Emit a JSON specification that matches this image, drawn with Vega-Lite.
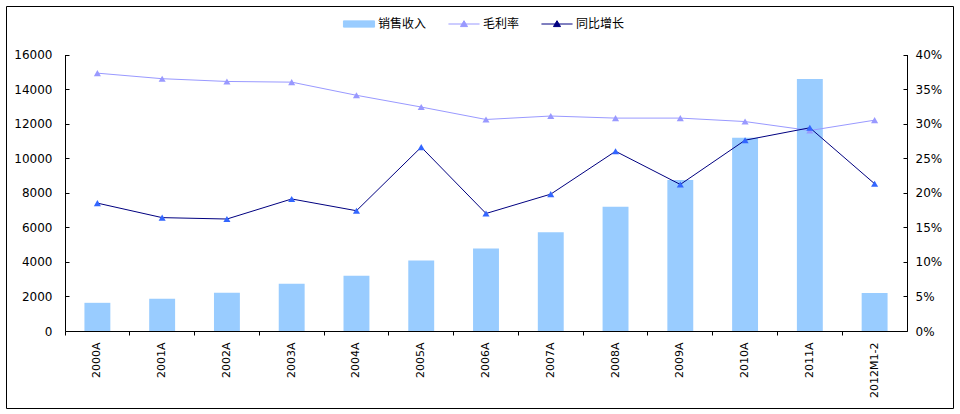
{
  "$schema": "https://vega.github.io/schema/vega-lite/v6.json",
  "autosize": {"type": "none"},
  "width": 947,
  "height": 402,
  "padding": {"left": 6, "top": 6, "right": 7, "bottom": 6},
  "background": "white",
  "config": {
    "view": {"stroke": "black", "strokeWidth": 1},
    "axis": {"labelFont": "DejaVu Sans", "labelFontSize": 12, "labelColor": "black", "domainColor": "black", "tickColor": "black", "grid": false, "title": null}
  },
  "data": {"values": [
    {"period": "2000A", "revenue": 1631, "margin": 0.373, "growth": 0.185},
    {"period": "2001A", "revenue": 1864, "margin": 0.365, "growth": 0.164},
    {"period": "2002A", "revenue": 2213, "margin": 0.361, "growth": 0.162},
    {"period": "2003A", "revenue": 2737, "margin": 0.360, "growth": 0.191},
    {"period": "2004A", "revenue": 3203, "margin": 0.341, "growth": 0.174},
    {"period": "2005A", "revenue": 4077, "margin": 0.324, "growth": 0.266},
    {"period": "2006A", "revenue": 4776, "margin": 0.306, "growth": 0.170},
    {"period": "2007A", "revenue": 5708, "margin": 0.311, "growth": 0.198},
    {"period": "2008A", "revenue": 7193, "margin": 0.308, "growth": 0.260},
    {"period": "2009A", "revenue": 8738, "margin": 0.308, "growth": 0.212},
    {"period": "2010A", "revenue": 11186, "margin": 0.303, "growth": 0.276},
    {"period": "2011A", "revenue": 14583, "margin": 0.290, "growth": 0.294},
    {"period": "2012M1-2", "revenue": 2195, "margin": 0.305, "growth": 0.213}
  ]},
  "encoding": {
    "x": {"field": "period", "type": "nominal", "sort": null,
      "scale": {"range": [59, 901], "paddingInner": 0, "paddingOuter": 0},
      "axis": {"orient": "bottom", "offset": -77, "labelAngle": -90, "bandPosition": 0, "labelOffset": 0, "tickSize": 4, "labelPadding": 7, "labelFontSize": 11}
    }
  },
  "layer": [
    {
      "mark": {"type": "bar", "width": {"band": 0.4}, "color": "#99CCFF"},
      "encoding": {
        "y": {"field": "revenue", "type": "quantitative",
          "scale": {"domain": [0, 16000], "range": [325, 48.5], "nice": false},
          "axis": {"orient": "left", "offset": -59, "values": [0,2000,4000,6000,8000,10000,12000,14000,16000], "format": "d", "tickSize": -4, "labelPadding": 17}
        },
        "color": {"datum": "销售收入", "type": "nominal",
          "scale": {"domain": ["销售收入", "毛利率", "同比增长"], "range": ["#99CCFF", "#9999FF", "#000080"]},
          "legend": {
            "orient": "none", "legendX": 342, "legendY": 7, "direction": "horizontal", "title": null,
            "labelFont": "Noto Sans CJK SC", "labelFontSize": 12, "labelColor": "black",
            "symbolSize": 430, "labelOffset": 8, "columnPadding": 19,
            "encode": {"symbols": {"update": {
              "shape": {"signal": "datum.value === '销售收入' ? 'M-1.5,-0.3H1.5V0.3H-1.5Z' : 'M-1.5,0H1.5M0,-0.32L0.34,0.25H-0.34Z'"},
              "fill": {"signal": "datum.value === '销售收入' ? '#99CCFF' : datum.value === '毛利率' ? '#9999FF' : '#3366FF'"},
              "stroke": {"signal": "datum.value === '销售收入' ? '#99CCFF' : datum.value === '毛利率' ? '#9999FF' : '#000080'"},
              "strokeWidth": {"value": 1},
              "opacity": {"value": 1}
            }}}
          }
        }
      }
    },
    {
      "encoding": {
        "y": {"type": "quantitative",
          "scale": {"domain": [0, 0.4], "range": [325, 48.5], "nice": false},
          "axis": {"orient": "right", "offset": -46, "values": [0,0.05,0.1,0.15,0.2,0.25,0.3,0.35,0.4], "format": ".0%", "tickSize": -4, "labelPadding": 12}
        }
      },
      "layer": [
        {"mark": {"type": "line", "strokeWidth": 1}, "encoding": {"y": {"field": "margin"}, "color": {"datum": "毛利率", "type": "nominal"}}},
        {"mark": {"type": "point", "shape": "triangle-up", "filled": true, "size": 50, "color": "#9999FF", "opacity": 1}, "encoding": {"y": {"field": "margin"}}},
        {"mark": {"type": "line", "strokeWidth": 1}, "encoding": {"y": {"field": "growth"}, "color": {"datum": "同比增长", "type": "nominal"}}},
        {"mark": {"type": "point", "shape": "triangle-up", "filled": true, "size": 50, "color": "#3366FF", "opacity": 1}, "encoding": {"y": {"field": "growth"}}}
      ]
    }
  ],
  "resolve": {"scale": {"y": "independent"}}
}
